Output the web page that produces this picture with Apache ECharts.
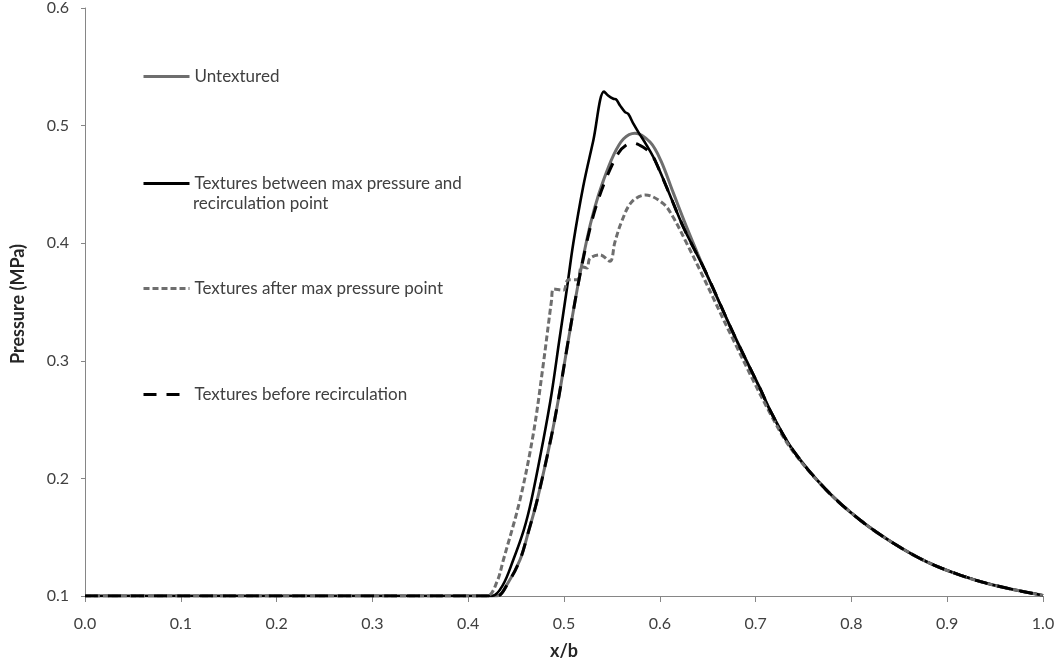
<!DOCTYPE html>
<html>
<head>
<meta charset="utf-8">
<script src="https://cdn.jsdelivr.net/npm/echarts@6/dist/echarts.min.js"></script>
<style>
html,body{margin:0;padding:0;background:#fff;}
#chart{width:1058px;height:666px;}
</style>
</head>
<body>
<div id="chart"></div>
<script>
// Series names
const seriesNames = [
  'Untextured',
  'Textures between max pressure and recirculation point',
  'Textures after max pressure point',
  'Textures before recirculation'
];
const xTicks = ['0.0','0.1','0.2','0.3','0.4','0.5','0.6','0.7','0.8','0.9','1.0'];
const yTicks = ['0.1','0.2','0.3','0.4','0.5','0.6'];

// Untextured
const untexturedX = [0, 0.1, 0.2, 0.3, 0.4, 0.43, 0.4415, 0.454, 0.463, 0.472, 0.486, 0.494, 0.5045, 0.5136, 0.5237, 0.532, 0.541, 0.5515, 0.562, 0.574, 0.5898, 0.601, 0.614, 0.628, 0.647, 0.6785, 0.7046, 0.7168, 0.739, 0.774, 0.809, 0.844, 0.8786, 0.9134, 0.948, 1.0];
const untexturedY = [0.1, 0.1, 0.1, 0.1, 0.1, 0.1, 0.111, 0.1306, 0.155, 0.1816, 0.2325, 0.2665, 0.3175, 0.36, 0.4025, 0.43, 0.453, 0.4745, 0.4886, 0.4936, 0.486, 0.4704, 0.443, 0.4138, 0.377, 0.3203, 0.2765, 0.2552, 0.224, 0.19, 0.1646, 0.1448, 0.1291, 0.1178, 0.1093, 0.1005];

// Textures between max pressure and recirculation point
const betweenX = [0, 0.1, 0.2, 0.3, 0.4, 0.425, 0.436, 0.447, 0.458, 0.466, 0.4784, 0.487, 0.4951, 0.5028, 0.5097, 0.52, 0.5306, 0.5418, 0.546, 0.5515, 0.554, 0.5585, 0.5637, 0.567, 0.5724, 0.5776, 0.5863, 0.595, 0.609, 0.6245, 0.647, 0.6785, 0.7046, 0.7168, 0.739, 0.774, 0.809, 0.844, 0.8786, 0.9134, 0.948, 1.0];
const betweenY = [0.1, 0.1, 0.1, 0.1, 0.1, 0.1, 0.109, 0.1306, 0.156, 0.1816, 0.2325, 0.272, 0.3175, 0.36, 0.40, 0.448, 0.4874, 0.529, 0.5256, 0.5228, 0.5225, 0.517, 0.5115, 0.51, 0.5016, 0.4945, 0.4832, 0.4704, 0.444, 0.4138, 0.377, 0.3203, 0.2765, 0.2552, 0.224, 0.19, 0.1646, 0.1448, 0.1291, 0.1178, 0.1093, 0.1005];

// Textures after max pressure point
const afterX = [0, 0.1, 0.2, 0.3, 0.4, 0.42, 0.43, 0.4367, 0.454, 0.468, 0.478, 0.487, 0.489, 0.4993, 0.5045, 0.514, 0.5184, 0.524, 0.527, 0.5376, 0.548, 0.553, 0.5602, 0.5706, 0.585, 0.6037, 0.614, 0.628, 0.642, 0.676, 0.716, 0.739, 0.774, 0.809, 0.844, 0.8786, 0.9134, 0.948, 1.0];
const afterY = [0.1, 0.1, 0.1, 0.1, 0.1, 0.1, 0.112, 0.1306, 0.1816, 0.238, 0.2948, 0.3515, 0.361, 0.36, 0.369, 0.369, 0.38, 0.379, 0.387, 0.39, 0.3846, 0.4005, 0.4185, 0.435, 0.441, 0.4336, 0.422, 0.4, 0.377, 0.319, 0.254, 0.223, 0.19, 0.1646, 0.1448, 0.1291, 0.1178, 0.1093, 0.1005];

// Textures before recirculation
const beforeX = [0, 0.1, 0.2, 0.3, 0.4, 0.43, 0.4415, 0.454, 0.463, 0.472, 0.486, 0.494, 0.5045, 0.5136, 0.5237, 0.533, 0.5445, 0.5567, 0.565, 0.5724, 0.5793, 0.5863, 0.5915, 0.595, 0.609, 0.6245, 0.647, 0.6785, 0.7046, 0.7168, 0.739, 0.774, 0.809, 0.844, 0.8786, 0.9134, 0.948, 1.0];
const beforeY = [0.1, 0.1, 0.1, 0.1, 0.1, 0.1, 0.111, 0.1306, 0.155, 0.1816, 0.2325, 0.2665, 0.3175, 0.36, 0.4005, 0.43, 0.456, 0.4765, 0.4835, 0.485, 0.4832, 0.4795, 0.475, 0.4704, 0.444, 0.4138, 0.377, 0.3203, 0.2765, 0.2552, 0.224, 0.19, 0.1646, 0.1448, 0.1291, 0.1178, 0.1093, 0.1005];

function pairs(xs, ys) { return xs.map((x, i) => [x, ys[i]]); }

const FONT = 'Lato';
const GRAY = '#6e6e6e';
const chart = echarts.init(document.getElementById('chart'), null, {renderer: 'canvas'});

const styles = [
  {color: GRAY, width: 3, type: 'solid'},
  {color: '#000000', width: 2.6, type: 'solid'},
  {color: GRAY, width: 3, type: [6, 3]},
  {color: '#000000', width: 3, type: [13, 10]}
];
const dataSets = [
  pairs(untexturedX, untexturedY),
  pairs(betweenX, betweenY),
  pairs(afterX, afterY),
  pairs(beforeX, beforeY)
];

const legendTops = [68, 175, 280, 386];
const legendText = {
  'Textures between max pressure and recirculation point': 'Textures between max pressure and'
};

const option = {
  animation: false,
  backgroundColor: '#ffffff',
  textStyle: {fontFamily: FONT},
  grid: {left: 85, right: 15, top: 8, bottom: 70, containLabel: false},
  legend: seriesNames.map((n, i) => ({
    data: [n],
    left: 142,
    top: legendTops[i],
    itemWidth: 46,
    itemHeight: 14,
    padding: 0,
    selectedMode: false,
    itemStyle: {opacity: 0},
    lineStyle: {width: 3, color: styles[i].color, type: styles[i].type},
    formatter: (name) => legendText[name] || name,
    textStyle: {fontFamily: FONT, fontSize: 17, color: '#404040'}
  })),
  graphic: [{
    type: 'text',
    left: 193,
    top: 195,
    style: {text: 'recirculation point', fontFamily: FONT, fontSize: 17, fill: '#404040'}
  }],
  xAxis: {
    type: 'value',
    min: 0, max: 1, interval: 0.1,
    name: 'x/b',
    nameLocation: 'middle',
    nameGap: 46,
    nameMoveOverlap: false,
    nameTextStyle: {fontFamily: FONT, fontSize: 18, fontWeight: 'bold', color: '#262626'},
    axisLine: {show: true, onZero: false, lineStyle: {color: '#868686', width: 1}},
    axisTick: {show: true, length: 6, lineStyle: {color: '#868686'}},
    axisLabel: {margin: 20, fontFamily: FONT, fontSize: 16, color: '#404040',
      formatter: (v) => xTicks[Math.round(v * 10)]},
    splitLine: {show: false}
  },
  yAxis: {
    type: 'value',
    min: 0.1, max: 0.6, interval: 0.1,
    name: 'Pressure (MPa)',
    nameLocation: 'middle',
    nameGap: 58,
    nameRotate: 90,
    nameMoveOverlap: false,
    nameTextStyle: {fontFamily: FONT, fontSize: 18, fontWeight: 'bold', color: '#262626', padding: [0, 4, 0, 0]},
    axisLine: {show: true, lineStyle: {color: '#868686', width: 1}},
    axisTick: {show: true, length: 4, lineStyle: {color: '#868686'}},
    axisLabel: {margin: 16, fontFamily: FONT, fontSize: 16, color: '#404040',
      formatter: (v) => yTicks[Math.round(v * 10) - 1]},
    splitLine: {show: false}
  },
  series: seriesNames.map((n, i) => ({
    name: n,
    type: 'line',
    data: dataSets[i],
    showSymbol: false,
    symbol: 'none',
    smooth: 0.35,
    color: styles[i].color,
    lineStyle: {color: styles[i].color, width: styles[i].width, type: styles[i].type},
    z: 2 + i
  }))
};
chart.setOption(option);
</script>
</body>
</html>
